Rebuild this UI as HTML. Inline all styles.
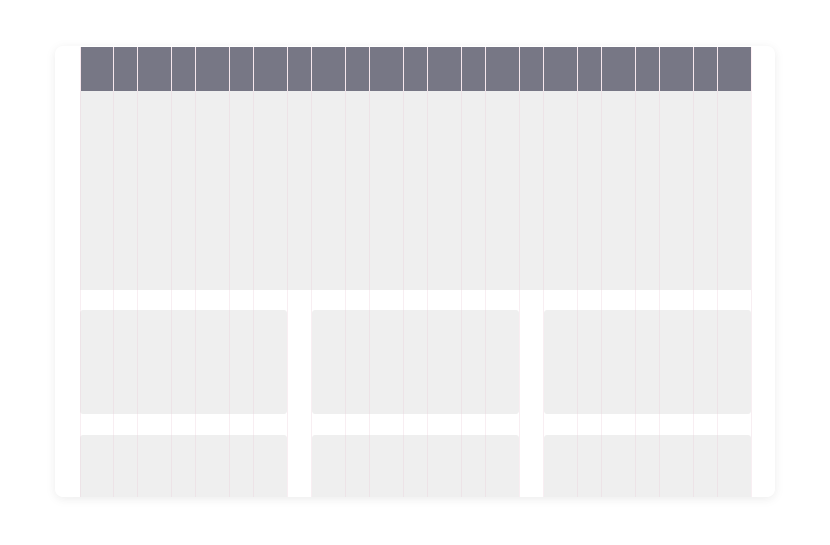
<!DOCTYPE html>
<html><head><meta charset="utf-8"><style>
html,body{margin:0;padding:0;background:#fff;width:830px;height:545px;overflow:hidden;font-family:"Liberation Sans",sans-serif}
#card{position:absolute;left:55px;top:46px;width:720px;height:451px;background:#fff;border-radius:8px;box-shadow:0 2px 10px rgba(0,0,0,0.08);overflow:hidden}
.b{position:absolute;background:#efefef}
#hdr{position:absolute;left:25px;top:1px;width:671px;height:44px;background:#777785}
#hero{left:25px;top:45px;width:671px;height:199px}
.ln{position:absolute;top:1px;width:1px;height:450px;background:rgba(235,205,218,0.35)}
.hl{position:absolute;top:1px;width:1px;height:44px;background:rgba(255,240,245,0.9)}
</style></head><body>
<div id="card">
<div id="hdr"></div>
<div class="b" id="hero"></div>
<div class="b" style="left:25px;top:264px;width:207px;height:104px;border-radius:3px"></div>
<div class="b" style="left:257px;top:264px;width:207px;height:104px;border-radius:3px"></div>
<div class="b" style="left:489px;top:264px;width:207px;height:104px;border-radius:3px"></div>
<div class="b" style="left:25px;top:389px;width:207px;height:70px;border-radius:3px"></div>
<div class="b" style="left:257px;top:389px;width:207px;height:70px;border-radius:3px"></div>
<div class="b" style="left:489px;top:389px;width:207px;height:70px;border-radius:3px"></div>
</div>
<script>
const card=document.getElementById('card');
const colW=34,gut=24,start=25,n=12;
for(let i=0;i<n;i++){
  const l=start+i*(colW+gut)-(i>0?1:0);
  [l,start+i*(colW+gut)+colW-1].forEach(x=>{
    const d=document.createElement('div');d.className='ln';d.style.left=x+'px';
    
    
    card.appendChild(d);
    const h=document.createElement('div');h.className='hl';h.style.left=x+'px';
    
    
    card.appendChild(h);
  });
}
</script>
</body></html>
